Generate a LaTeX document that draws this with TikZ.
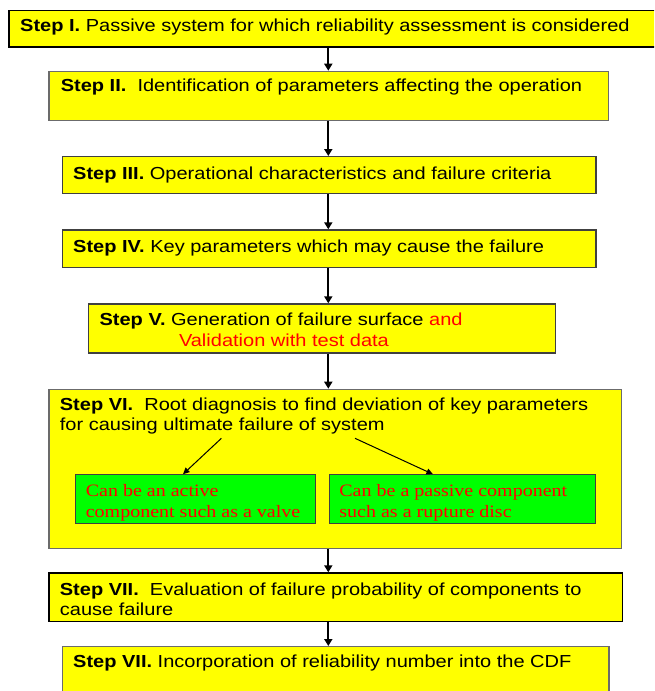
\documentclass[tikz,border=0pt]{standalone}
\usepackage{fontspec}
\setmainfont{Liberation Sans}[FakeStretch=1.15]
\newfontfamily\tms{Liberation Serif}[FakeStretch=1.15]
\usetikzlibrary{arrows.meta}
\definecolor{yel}{HTML}{FFFF00}
\definecolor{grn}{HTML}{00FF00}
\definecolor{redt}{HTML}{FF0000}
\definecolor{bdA}{HTML}{000000}
\definecolor{bdB}{HTML}{6B6B6B}
\definecolor{bdC}{HTML}{404040}
\tikzset{
  ybox/.style={draw=bdC, fill=yel, line width=1.3pt, inner sep=0pt, anchor=north west},
  gbox/.style={draw=bdC, fill=grn, line width=1.1pt, inner sep=0pt, anchor=north west},
  txt/.style={inner sep=0pt, anchor=base west, font=\fontsize{17.4}{20}\selectfont},
  gtxt/.style={inner sep=0pt, anchor=base west, text=redt, font=\tms\fontsize{17.4}{20}\selectfont},
  arr/.style={line width=2pt, -{Triangle[length=7pt,width=8pt]}},
  iarr/.style={line width=1pt, -{Triangle[length=6.5pt,width=6pt]}}
}
\begin{document}
\begin{tikzpicture}[x=1pt,y=-1pt]
\useasboundingbox (0,0) rectangle (654,691);
\clip (0,0) rectangle (654,691);
\coordinate (ax) at (328.3,0);
% boxes
\node[ybox, draw=bdA, minimum width=660pt, minimum height=36.3pt] (b1) at (8.3,10) {};
\node[ybox, draw=bdB, minimum width=559.4pt, minimum height=48.8pt] (b2) at (48.3,70.7) {};
\node[ybox, minimum width=533.4pt, minimum height=37pt] (b3) at (61.8,156) {};
\node[ybox, minimum width=533.4pt, minimum height=37.2pt] (b4) at (61.8,229.3) {};
\node[ybox, minimum width=466.8pt, minimum height=49pt] (b5) at (87.7,303.3) {};
\node[ybox, draw=bdB, minimum width=572.4pt, minimum height=159pt] (b6) at (48.3,388.7) {};
\node[gbox, minimum width=239.5pt, minimum height=49.1pt] (g1) at (75.2,474.2) {};
\node[gbox, minimum width=266.3pt, minimum height=49.1pt] (g2) at (328.5,474.2) {};
\node[ybox, draw=bdA, minimum width=573.1pt, minimum height=48.7pt] (b7) at (48.4,572.3) {};
\node[ybox, draw=bdB, minimum width=546.4pt, minimum height=80pt] (b8) at (61.8,646) {};
% texts
\node[txt] (t1) at (20,31.7) {\textbf{Step I.} Passive system for which reliability assessment is considered};
\node[txt] (t2) at (60.6,91.7) {\textbf{Step II.}~ Identification of parameters affecting the operation};
\node[txt] (t3) at (73,179) {\textbf{Step III.} Operational characteristics and failure criteria};
\node[txt] (t4) at (73,252.3) {\textbf{Step IV.} Key parameters which may cause the failure};
\node[txt] (t5a) at (99.4,325.7) {\textbf{Step V.} Generation of failure surface \textcolor{redt}{and}};
\node[txt, text=redt] (t5b) at (178.8,346.7) {Validation with test data};
\node[txt] (t6a) at (59.7,410.7) {\textbf{Step VI.}~ Root diagnosis to find deviation of key parameters};
\node[txt] (t6b) at (59.7,430.7) {for causing ultimate failure of system};
\node[gtxt] (g1a) at (85.6,496.7) {Can be an active};
\node[gtxt] (g1b) at (85.6,517.3) {component such as a valve};
\node[gtxt] (g2a) at (339.2,496.7) {Can be a passive component};
\node[gtxt] (g2b) at (339.2,517.3) {such as a rupture disc};
\node[txt] (t7a) at (59.7,595) {\textbf{Step VII.}~ Evaluation of failure probability of components to};
\node[txt] (t7b) at (59.7,615) {cause failure};
\node[txt] (t8) at (73,667.7) {\textbf{Step VII.} Incorporation of reliability number into the CDF};
% connectors
\draw[arr] (b1.south -| ax) -- (b2.north -| ax);
\draw[arr] (b2.south -| ax) -- (b3.north -| ax);
\draw[arr] (b3.south -| ax) -- (b4.north -| ax);
\draw[arr] (b4.south -| ax) -- (b5.north -| ax);
\draw[arr] (b5.south -| ax) -- (b6.north -| ax);
\draw[arr] (b6.south -| ax) -- (b7.north -| ax);
\draw[arr] (b7.south -| ax) -- (b8.north -| ax);
\coordinate (s1) at (221.4,438.3);
\coordinate (s2) at (355,438.3);
\draw[iarr] (s1) -- ([xshift=-12.5pt]g1.north);
\draw[iarr] (s2) -- ([xshift=-29.3pt]g2.north);
\end{tikzpicture}
\end{document}
